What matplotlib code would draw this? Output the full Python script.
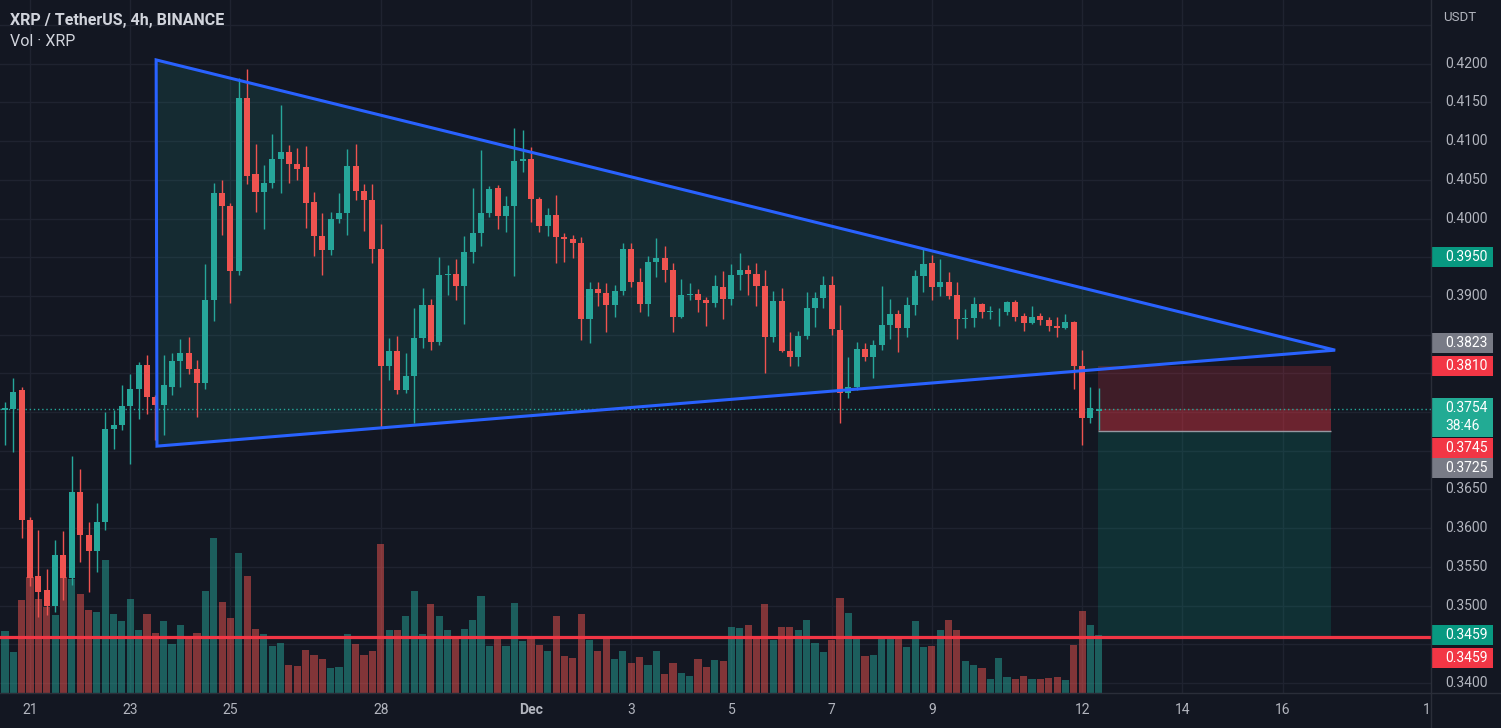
import numpy as np
import matplotlib.pyplot as plt
from matplotlib.patches import Polygon, Rectangle

# XRP/USDT 4h candles, Nov 20 08:00 -> Dec 12 08:00 (index -1 .. 131)
opens = [0.3888,
    0.3753, 0.3754, 0.3779, 0.3611, 0.3538, 0.3520, 0.3500, 0.3565, 0.3536, 0.3647,
    0.3591, 0.3571, 0.3608, 0.3728, 0.3733, 0.3758, 0.3780, 0.3811, 0.3770, 0.3759,
    0.3782, 0.3816, 0.3826, 0.3806, 0.3788, 0.3895, 0.4033, 0.4016, 0.3932, 0.4156,
    0.4058, 0.4034, 0.4046, 0.4077, 0.4086, 0.4071, 0.4067, 0.4021, 0.3977, 0.3959,
    0.3999, 0.4007, 0.4068, 0.4036, 0.4024, 0.3961, 0.3810, 0.3829, 0.3779, 0.3797,
    0.3846, 0.3888, 0.3841, 0.3927, 0.3928, 0.3913, 0.3957, 0.3981, 0.4007, 0.4040,
    0.4003, 0.4016, 0.4074, 0.4077, 0.4025, 0.3990, 0.4005, 0.3976, 0.3974, 0.3968,
    0.3870, 0.3909, 0.3904, 0.3888, 0.3906, 0.3961, 0.3918, 0.3890, 0.3944, 0.3949,
    0.3934, 0.3873, 0.3901, 0.3903, 0.3895, 0.3891, 0.3912, 0.3896, 0.3927, 0.3934,
    0.3929, 0.3913, 0.3847, 0.3894, 0.3829, 0.3821, 0.3848, 0.3884, 0.3897, 0.3914,
    0.3856, 0.3775, 0.3782, 0.3831, 0.3821, 0.3837, 0.3862, 0.3877, 0.3859, 0.3888,
    0.3926, 0.3943, 0.3912, 0.3918, 0.3901, 0.3870, 0.3872, 0.3890, 0.3879, 0.3880,
    0.3879, 0.3892, 0.3874, 0.3865, 0.3874, 0.3869, 0.3861, 0.3859, 0.3866, 0.3810,
    0.3742, 0.3752]
highs = [0.3895,
    0.3763, 0.3794, 0.3782, 0.3614, 0.3598, 0.3547, 0.3585, 0.3596, 0.3693, 0.3676,
    0.3608, 0.3633, 0.3750, 0.3753, 0.3785, 0.3799, 0.3815, 0.3824, 0.3772, 0.3824,
    0.3826, 0.3844, 0.3847, 0.3817, 0.3941, 0.4046, 0.4050, 0.4020, 0.4182, 0.4193,
    0.4096, 0.4069, 0.4109, 0.4147, 0.4095, 0.4091, 0.4094, 0.4034, 0.4007, 0.4008,
    0.4033, 0.4090, 0.4096, 0.4045, 0.4045, 0.3993, 0.3846, 0.3848, 0.3826, 0.3884,
    0.3910, 0.3896, 0.3950, 0.3940, 0.3948, 0.3978, 0.4040, 0.4089, 0.4042, 0.4043,
    0.4029, 0.4117, 0.4114, 0.4092, 0.4028, 0.4014, 0.4031, 0.3981, 0.3979, 0.3976,
    0.3918, 0.3918, 0.3917, 0.3914, 0.3968, 0.3968, 0.3936, 0.3952, 0.3975, 0.3965,
    0.3943, 0.3922, 0.3917, 0.3909, 0.3899, 0.3927, 0.3932, 0.3941, 0.3956, 0.3940,
    0.3943, 0.3934, 0.3906, 0.3910, 0.3853, 0.3855, 0.3905, 0.3905, 0.3926, 0.3926,
    0.3888, 0.3821, 0.3841, 0.3839, 0.3843, 0.3913, 0.3896, 0.3882, 0.3899, 0.3934,
    0.3962, 0.3953, 0.3948, 0.3931, 0.3918, 0.3883, 0.3899, 0.3891, 0.3887, 0.3884,
    0.3893, 0.3895, 0.3878, 0.3887, 0.3878, 0.3873, 0.3873, 0.3877, 0.3868, 0.3830,
    0.3782, 0.3781]
lows = [0.3750,
    0.3708, 0.3698, 0.3587, 0.3525, 0.3485, 0.3488, 0.3492, 0.3507, 0.3527, 0.3556,
    0.3518, 0.3543, 0.3598, 0.3702, 0.3727, 0.3683, 0.3741, 0.3748, 0.3714, 0.3720,
    0.3772, 0.3782, 0.3799, 0.3744, 0.3780, 0.3868, 0.3979, 0.3891, 0.3927, 0.4045,
    0.4008, 0.3987, 0.4039, 0.4033, 0.4046, 0.4050, 0.3988, 0.3952, 0.3927, 0.3953,
    0.3994, 0.3979, 0.4024, 0.3984, 0.3943, 0.3731, 0.3791, 0.3773, 0.3775, 0.3736,
    0.3833, 0.3830, 0.3837, 0.3901, 0.3895, 0.3864, 0.3943, 0.3965, 0.4002, 0.3987,
    0.3983, 0.3926, 0.4060, 0.3996, 0.3983, 0.3978, 0.3943, 0.3944, 0.3949, 0.3843,
    0.3839, 0.3887, 0.3853, 0.3873, 0.3901, 0.3912, 0.3879, 0.3874, 0.3924, 0.3918,
    0.3853, 0.3871, 0.3895, 0.3879, 0.3861, 0.3886, 0.3870, 0.3888, 0.3908, 0.3901,
    0.3887, 0.3800, 0.3841, 0.3828, 0.3810, 0.3810, 0.3845, 0.3860, 0.3884, 0.3850,
    0.3736, 0.3768, 0.3778, 0.3816, 0.3794, 0.3830, 0.3844, 0.3828, 0.3847, 0.3876,
    0.3905, 0.3895, 0.3900, 0.3896, 0.3844, 0.3859, 0.3860, 0.3872, 0.3870, 0.3861,
    0.3875, 0.3868, 0.3855, 0.3864, 0.3862, 0.3855, 0.3847, 0.3857, 0.3780, 0.3708,
    0.3736, 0.3727]
closes = [0.3762,
    0.3755, 0.3776, 0.3611, 0.3536, 0.3518, 0.3500, 0.3565, 0.3536, 0.3647, 0.3591,
    0.3571, 0.3608, 0.3728, 0.3733, 0.3758, 0.3780, 0.3811, 0.3770, 0.3759, 0.3785,
    0.3816, 0.3826, 0.3806, 0.3788, 0.3895, 0.4033, 0.4016, 0.3932, 0.4156, 0.4055,
    0.4034, 0.4046, 0.4077, 0.4086, 0.4071, 0.4064, 0.4020, 0.3977, 0.3959, 0.3999,
    0.4007, 0.4068, 0.4036, 0.4024, 0.3961, 0.3810, 0.3829, 0.3779, 0.3797, 0.3846,
    0.3888, 0.3841, 0.3927, 0.3928, 0.3913, 0.3957, 0.3981, 0.4007, 0.4038, 0.4003,
    0.4016, 0.4074, 0.4077, 0.4025, 0.3990, 0.4005, 0.3976, 0.3974, 0.3968, 0.3870,
    0.3909, 0.3904, 0.3888, 0.3906, 0.3961, 0.3918, 0.3890, 0.3944, 0.3949, 0.3934,
    0.3873, 0.3901, 0.3903, 0.3895, 0.3891, 0.3913, 0.3896, 0.3927, 0.3934, 0.3928,
    0.3913, 0.3847, 0.3894, 0.3829, 0.3821, 0.3848, 0.3884, 0.3897, 0.3914, 0.3857,
    0.3775, 0.3782, 0.3831, 0.3821, 0.3837, 0.3862, 0.3877, 0.3859, 0.3888, 0.3926,
    0.3941, 0.3912, 0.3918, 0.3900, 0.3870, 0.3872, 0.3890, 0.3879, 0.3880, 0.3881,
    0.3892, 0.3873, 0.3865, 0.3873, 0.3869, 0.3861, 0.3859, 0.3866, 0.3810, 0.3742,
    0.3755, 0.3754]
# volume (relative)
volume = [68,
    62, 41, 93, 116, 94, 86, 78, 116, 114, 99,
    83, 81, 133, 79, 72, 94, 63, 79, 60, 72,
    49, 68, 57, 60, 102, 155, 91, 75, 140, 117,
    64, 59, 47, 50, 28, 27, 43, 38, 34, 25,
    26, 59, 49, 38, 42, 149, 63, 63, 77, 102,
    59, 89, 77, 63, 57, 64, 73, 97, 47, 57,
    47, 90, 52, 56, 48, 42, 77, 37, 35, 79,
    53, 42, 57, 34, 42, 30, 36, 28, 42, 19,
    30, 20, 17, 34, 26, 33, 32, 66, 65, 68,
    54, 89, 53, 66, 66, 63, 73, 50, 41, 53,
    95, 80, 54, 37, 38, 56, 54, 54, 46, 72,
    46, 47, 63, 73, 63, 32, 28, 25, 14, 35,
    16, 14, 17, 14, 14, 15, 16, 13, 48, 82,
    68, 58]

date_idx = [3, 15, 27, 45, 63, 75, 87, 99, 111, 129, 141, 153]
date_lbl = ['21', '23', '25', '28', 'Dec', '3', '5', '7', '9', '12', '14', '16']

# price scale ticks (the ones hidden behind the coloured labels are left out)
tick_prices = [0.3400, 0.3500, 0.3550, 0.3600, 0.3650, 0.3900,
               0.4000, 0.4050, 0.4100, 0.4150, 0.4200]

# triangle drawing (bar index, price)
tri_x = [18.1, 18.2, 159.3]
tri_y = [0.4205, 0.3706, 0.3830]

# short position tool
pos_x0, pos_x1 = 130.9, 158.8
stop, entry, target, last = 0.3810, 0.3725, 0.3459, 0.3754

# price scale labels: price, colour, shift in px (labels pushed apart)
lab_price = [0.3950, 0.3823, 0.3810, 0.3745, 0.3725, 0.3459, 0.3459]
lab_color = ['#089981', '#787b86', '#f23645', '#f23645', '#787b86', '#089981', '#f23645']
lab_shift = [0, -13, 0, 32, 37, -2, 21]

bg = '#131722'
grid = '#1f2330'
txt = '#b2b5be'
up_c = '#26a69a'
dn_c = '#ef5350'
ppx = 0.0001292          # price per pixel
y_top = 0.42824
y_bot = y_top - 693 * ppx
fnt = 'Roboto'

O = np.array(opens); Hh = np.array(highs); L = np.array(lows); C = np.array(closes)
idx = np.arange(-1, len(O) - 1)
up = C >= O
cols = np.where(up, up_c, dn_c)

fig = plt.figure(figsize=(15.01, 7.28), dpi=100)
fig.patch.set_facecolor(bg)
pos = [0, 35 / 728, 1431 / 1501, 693 / 728]

vax = fig.add_axes(pos)
vax.set_axis_off()
vax.set_xlim(-0.6, 170.78)
vax.set_ylim(0, 693)

ax = fig.add_axes(pos)
ax.set_axis_off()
ax.set_xlim(-0.6, 170.78)
ax.set_ylim(y_bot, y_top)

# grid
for p in np.arange(0.34, 0.4251, 0.005):
    vax.axhline((p - y_bot) / ppx, color=grid, lw=1, zorder=0)
for d in date_idx:
    vax.axvline(d, color=grid, lw=1, zorder=0)

# volume
vcols = [(0.15, 0.65, 0.6, 0.5) if u else (0.94, 0.33, 0.31, 0.5) for u in up]
vax.bar(idx, volume, width=0.86, color=vcols, zorder=1)

# triangle fill
tri = Polygon(list(zip(tri_x, tri_y)), closed=True, facecolor=up_c, alpha=0.14, edgecolor='none', zorder=1)
ax.add_patch(tri)

# position tool
w = pos_x1 - pos_x0
ax.add_patch(Rectangle((pos_x0, entry), w, stop - entry, facecolor='#f23645', alpha=0.2, edgecolor='none', zorder=1))
ax.add_patch(Rectangle((pos_x0, entry), w, last - entry, facecolor='#f23645', alpha=0.25, edgecolor='none', zorder=1))
ax.add_patch(Rectangle((pos_x0, target), w, entry - target, facecolor='#089981', alpha=0.2, edgecolor='none', zorder=1))
ax.hlines(entry, pos_x0, pos_x1, color='#9598a1', lw=1, zorder=2)

# current price dotted line
ax.axhline(last, color=up_c, lw=1, ls=(0, (1, 2)), zorder=2)

# candles
ax.vlines(idx, L, Hh, colors=cols, lw=1, zorder=3)
ax.bar(idx, np.maximum(np.abs(C - O), 0.00012), bottom=np.minimum(O, C), width=0.72, color=cols, zorder=3)

# triangle edges
ax.add_patch(Polygon(list(zip(tri_x, tri_y)), closed=True, fill=False, edgecolor='#2962ff', lw=2.2, zorder=4))

# target line
ax.axhline(target, color='#f23645', lw=2.3, zorder=4)

# x axis labels
for d, s in zip(date_idx, date_lbl):
    ax.text(d, -17 / 693, s, transform=ax.get_xaxis_transform(), ha='center', va='center',
            color=txt, fontsize=10, family=fnt, fontweight='bold' if s == 'Dec' else 'normal', clip_on=False)
fig.text(1427 / 1501, 18 / 728, '1', ha='center', va='center', color=txt, fontsize=10, family=fnt)

# borders
fig.add_artist(plt.Line2D([1431 / 1501, 1431 / 1501], [0, 1], color='#2a2e39', lw=1))
fig.add_artist(plt.Line2D([0, 1], [35 / 728, 35 / 728], color='#2a2e39', lw=1))

# price scale
pax = fig.add_axes([1432 / 1501, 35 / 728, 69 / 1501, 693 / 728])
pax.set_axis_off()
pax.set_xlim(0, 69)
pax.set_ylim(y_bot, y_top)
for p in tick_prices:
    pax.text(13, p, '%.4f' % p, ha='left', va='center', color=txt, fontsize=10, family=fnt, zorder=1)

bh = 20 * ppx
for p, c, s in zip(lab_price, lab_color, lab_shift):
    yc = p - s * ppx
    pax.add_patch(Rectangle((0, yc - bh / 2), 61, bh, facecolor=c, edgecolor='none', zorder=3))
    pax.text(13, yc, '%.4f' % p, ha='left', va='center', color='white', fontsize=10, family=fnt, zorder=4)

pax.add_patch(Rectangle((0, last - 28 * ppx), 61, 39 * ppx, facecolor='#22ab94', edgecolor='none', zorder=3))
pax.text(13, last + 1 * ppx, '%.4f' % last, ha='left', va='center', color='white', fontsize=10, family=fnt, zorder=4)
pax.text(13, last - 17 * ppx, '38:46', ha='left', va='center', color='white', fontsize=10, family=fnt, zorder=4)

fig.text(1443 / 1501, 1 - 17.5 / 728, 'USDT', ha='left', va='center', color=txt, fontsize=9.5, family=fnt)

# legend text
fig.text(10 / 1501, 1 - 20.5 / 728, 'XRP / TetherUS, 4h, BINANCE', ha='left', va='center',
         color='#d1d4dc', fontsize=11.5, family=fnt, fontweight='bold')
fig.text(10 / 1501, 1 - 42 / 728, 'Vol · XRP', ha='left', va='center', color='#d1d4dc', fontsize=11.5, family=fnt)

fig.savefig('out.png', dpi=100, facecolor=bg)
